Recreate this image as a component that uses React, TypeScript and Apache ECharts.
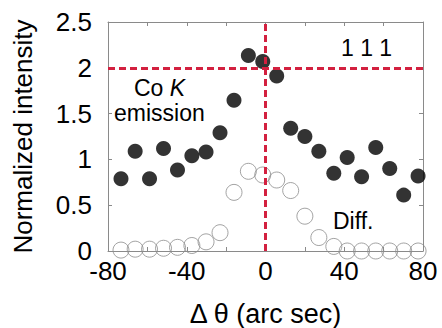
import React, { useEffect, useRef } from "react";
import * as echarts from "echarts";

const xValues = [-73.4, -66.2, -58.9, -51.8, -44.7, -37.4, -30.2, -23.1, -16.0, -8.7, -1.4, 5.7, 12.8, 20.0, 27.1, 34.7, 41.5, 48.8, 56.0, 63.1, 70.2, 77.5];
const emissionValues = [0.79, 1.09, 0.79, 1.12, 0.885, 1.04, 1.08, 1.29, 1.645, 2.135, 2.07, 1.91, 1.34, 1.25, 1.09, 0.85, 1.02, 0.81, 1.13, 0.9, 0.61, 0.82];
const diffValues = [0.01, 0.02, 0.02, 0.03, 0.04, 0.06, 0.1, 0.2, 0.64, 0.87, 0.83, 0.775, 0.66, 0.38, 0.147, 0.05, 0.0, 0.0, 0.0, 0.0, 0.0, 0.0];
const xLabelTicks = [-80, -40, 0, 40, 80];
const refX = 0;
const refY = 2;

const FONT = "Liberation Sans";
const RED = "#d3203f";
const FRAME = "#8a8a8a";

export default function App() {
  const ref = useRef<HTMLDivElement>(null);
  useEffect(() => {
    if (!ref.current) return;
    const chart = echarts.init(ref.current, null, { renderer: "svg" });
    const emission = xValues.map((x, i) => [x, emissionValues[i]]);
    const diff = xValues.map((x, i) => [x, diffValues[i]]);
    const axisCommon = {
      axisLine: { show: true, onZero: false, lineStyle: { color: FRAME, width: 1 } },
      axisTick: { show: true, inside: true, length: 4, lineStyle: { color: FRAME, width: 1 } },
      splitLine: { show: false },
    };
    const annot = { fontFamily: FONT, fontSize: 23, fill: "#000", verticalAlign: "middle", align: "left" };
    chart.setOption({
      animation: false,
      backgroundColor: "#ffffff",
      grid: { left: 108, right: 19, top: 22, bottom: 77, outerBoundsMode: "none", containLabel: false },
      xAxis: [
        {
          type: "value",
          min: -80,
          max: 80,
          interval: 20,
          ...axisCommon,
          axisLabel: {
            margin: 7,
            color: "#000",
            fontFamily: FONT,
            fontSize: 26,
            formatter: (v: number) => (xLabelTicks.includes(v) ? String(v) : ""),
          },
          name: "\u0394 \u03b8 (arc sec)",
          nameLocation: "middle",
          nameGap: 49,
          nameTextStyle: { color: "#000", fontFamily: FONT, fontSize: 27 },
        },
        {
          type: "value",
          position: "top",
          min: -80,
          max: 80,
          interval: 20,
          ...axisCommon,
          axisLabel: { show: false },
        },
      ],
      yAxis: [
        {
          type: "value",
          min: 0,
          max: 2.5,
          interval: 0.5,
          ...axisCommon,
          axisLabel: { margin: 16, color: "#000", fontFamily: FONT, fontSize: 26 },
          name: "Normalized intensity",
          nameLocation: "middle",
          nameGap: 72,
          nameTextStyle: { color: "#000", fontFamily: FONT, fontSize: 26 },
        },
        {
          type: "value",
          position: "right",
          min: 0,
          max: 2.5,
          interval: 0.5,
          ...axisCommon,
          axisLabel: { show: false },
        },
      ],
      series: [
        {
          type: "scatter",
          name: "Diff.",
          data: diff,
          symbol: "circle",
          symbolSize: 16,
          z: 2,
          itemStyle: { color: "rgba(255,255,255,0)", borderColor: "#8c8c8c", borderWidth: 1 },
          markLine: {
            silent: true,
            symbol: "none",
            label: { show: false },
            lineStyle: { color: RED, width: 3, type: [7, 4] },
            data: [{ xAxis: refX }, { yAxis: refY }],
          },
        },
        {
          type: "scatter",
          name: "Co K emission",
          data: emission,
          symbol: "circle",
          symbolSize: 15,
          z: 3,
          itemStyle: { color: "#000" },
        },
      ],
      graphic: [
        {
          type: "text",
          x: 134,
          y: 88,
          style: {
            ...annot,
            rich: {
              n: { fontFamily: FONT, fontSize: 23, fill: "#000" },
              i: { fontFamily: FONT, fontSize: 23, fontStyle: "italic", fill: "#000" },
            },
            text: "{n|Co }{i|K}",
          },
        },
        { type: "text", x: 114, y: 113, style: { ...annot, text: "emission" } },
        { type: "text", x: 341, y: 48, style: { ...annot, text: "1 1 1" } },
        { type: "text", x: 333, y: 221, style: { ...annot, text: "Diff." } },
      ],
    });
    return () => chart.dispose();
  }, []);
  return (
    <div
      ref={ref}
      style={{ position: "fixed", left: 0, top: 0, width: 442, height: 328 }}
    />
  );
}
